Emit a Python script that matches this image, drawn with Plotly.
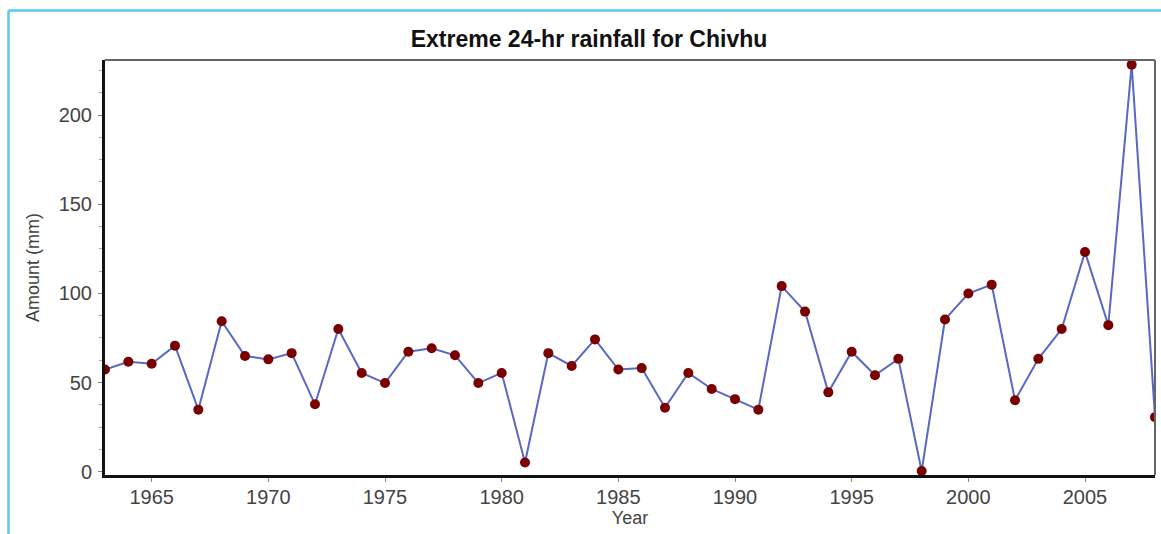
import plotly.graph_objects as go

years = list(range(1963, 2009))
amount_mm = [57.3, 61.7, 60.5, 70.7, 34.8, 84.4, 64.9, 63.0, 66.5, 37.8,
             80.0, 55.4, 49.7, 67.3, 69.2, 65.3, 49.7, 55.4, 5.2, 66.5,
             59.3, 74.2, 57.3, 58.1, 35.9, 55.4, 46.4, 40.7, 34.8, 104.1,
             89.8, 44.5, 67.3, 54.1, 63.3, 0.4, 85.4, 99.9, 104.9, 40.1,
             63.3, 80.0, 123.2, 82.2, 228.3, 30.6]
x_ticks = [1965, 1970, 1975, 1980, 1985, 1990, 1995, 2000, 2005]
y_ticks = [0, 50, 100, 150, 200]

FONT = "Arial, Liberation Sans, sans-serif"

W, H = 1161, 534
L, R, T, B = 105, 6, 60, 59
PW, PH = W - L - R, H - T - B

fig = go.Figure()
fig.add_trace(go.Scatter(
    x=years, y=amount_mm, mode="lines+markers",
    line=dict(color="#5868c4", width=2),
    marker=dict(color="#7a0000", size=10, line=dict(width=0)),
    showlegend=False,
))

fig.update_layout(
    width=W, height=H,
    margin=dict(l=L, r=R, t=T, b=B),
    paper_bgcolor="white", plot_bgcolor="white",
    title=dict(text="<b>Extreme 24-hr rainfall for Chivhu</b>",
               x=589/W, xanchor="center", y=1-39/H, yanchor="middle",
               xref="container", yref="container",
               font=dict(family=FONT, size=23, color="#111")),
    font=dict(family=FONT, color="#444"),
)

fig.update_xaxes(
    range=[1963, 2008], tickvals=x_ticks, ticktext=[str(v) for v in x_ticks],
    showgrid=False, zeroline=False,
    showline=True, linecolor="#111", linewidth=3,
    ticks="outside", ticklen=4, tickcolor="#888", tickwidth=1,
    tickfont=dict(family=FONT, size=20, color="#444"),
    ticklabelstandoff=-2,
    title=dict(text="Year", font=dict(family=FONT, size=18, color="#444"), standoff=0),
)
fig.update_yaxes(
    range=[-1.85, 230.9], tickvals=y_ticks,
    showgrid=False, zeroline=False,
    showline=True, linecolor="#111", linewidth=3,
    ticks="outside", ticklen=4, tickcolor="#888", tickwidth=1,
    minor=dict(dtick=12.5, tick0=0, ticks="outside", ticklen=3, tickcolor="#aaa"),
    tickfont=dict(family=FONT, size=20, color="#444"),
    ticklabelstandoff=2,
    title=dict(text="Amount (mm)", font=dict(family=FONT, size=18, color="#444"), standoff=15),
)

# top and right frame lines (thinner, grey)
fig.add_shape(type="line", xref="paper", yref="paper", x0=0, x1=1, y0=1, y1=1,
              line=dict(color="#666", width=2))
fig.add_shape(type="line", xref="paper", yref="paper", x0=1, x1=1, y0=0, y1=1,
              line=dict(color="#666", width=2))

# light blue outer border (top and left)
bx = (8.5 - L) / PW
by = (H - B - 10.5) / PH
fig.add_shape(type="line", xref="paper", yref="paper",
              x0=bx, x1=1.05, y0=by, y1=by,
              line=dict(color="#5cc8f2", width=2.5), layer="above")
fig.add_shape(type="line", xref="paper", yref="paper",
              x0=bx, x1=bx, y0=by, y1=-0.2,
              line=dict(color="#5cc8f2", width=2.5), layer="above")

fig.write_html(
    "out.html",
    config={"displayModeBar": False},
    post_script="document.body.style.margin='0';document.body.style.overflow='hidden';",
)
